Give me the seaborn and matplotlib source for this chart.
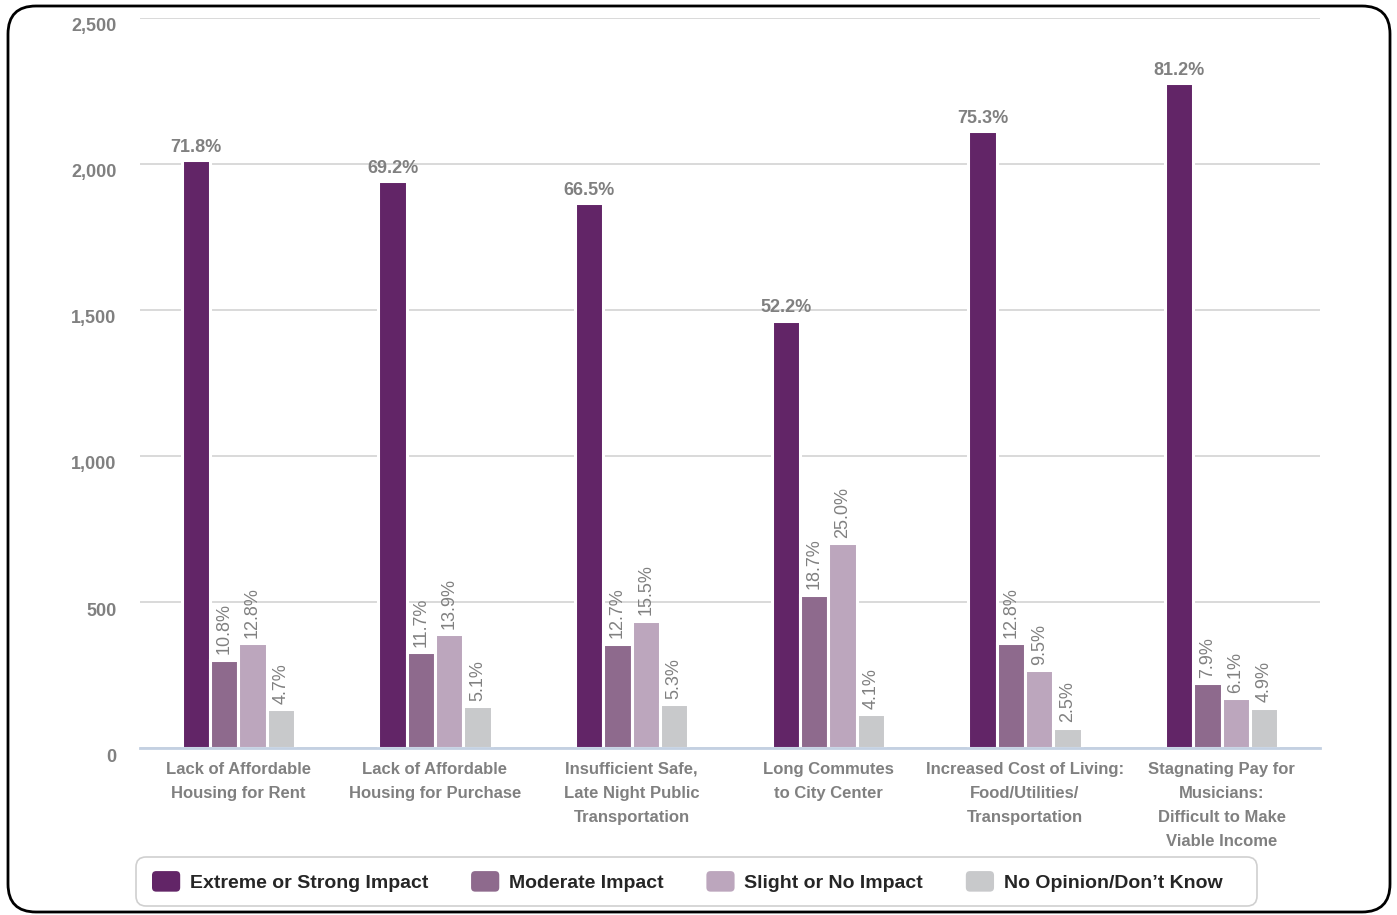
import matplotlib
matplotlib.use("Agg")
import matplotlib.pyplot as plt
import matplotlib.transforms as mtransforms
import seaborn as sns
import pandas as pd
from matplotlib.patches import FancyBboxPatch, Patch
from matplotlib.legend_handler import HandlerPatch
from matplotlib import font_manager

categories = [
    "Lack of Affordable\nHousing for Rent",
    "Lack of Affordable\nHousing for Purchase",
    "Insufficient Safe,\nLate Night Public\nTransportation",
    "Long Commutes\nto City Center",
    "Increased Cost of Living:\nFood/Utilities/\nTransportation",
    "Stagnating Pay for\nMusicians:\nDifficult to Make\nViable Income",
]
series = ["Extreme or Strong Impact", "Moderate Impact", "Slight or No Impact", "No Opinion/Don\u2019t Know"]
extreme = [2014, 1941, 1865, 1464, 2112, 2278]
moderate = [303, 328, 356, 525, 359, 222]
slight = [359, 390, 435, 701, 266, 171]
no_opinion = [132, 143, 149, 115, 70, 137]
pct_extreme = ["71.8%", "69.2%", "66.5%", "52.2%", "75.3%", "81.2%"]
pct_moderate = ["10.8%", "11.7%", "12.7%", "18.7%", "12.8%", "7.9%"]
pct_slight = ["12.8%", "13.9%", "15.5%", "25.0%", "9.5%", "6.1%"]
pct_noop = ["4.7%", "5.1%", "5.3%", "4.1%", "2.5%", "4.9%"]
yticks = [0, 500, 1000, 1500, 2000, 2500]
ytick_labels = ["0", "500", "1,000", "1,500", "2,000", "2,500"]

colors = ["#622567", "#8e6a8d", "#bca6bd", "#c8c9cb"]

values = [extreme, moderate, slight, no_opinion]
rows = []
for s, vals in zip(series, values):
    for c, v in zip(categories, vals):
        rows.append({"category": c, "series": s, "value": v})
df = pd.DataFrame(rows)

sns.set_theme(style="white")
avail = {f.name for f in font_manager.fontManager.ttflist}
fam = "Liberation Sans Narrow" if "Liberation Sans Narrow" in avail else "Liberation Sans"
plt.rcParams["font.family"] = [fam, "DejaVu Sans"]

W, H = 1397, 915
fig = plt.figure(figsize=(W / 100, H / 100), dpi=100)

# background frame and legend box
bg = fig.add_axes([0, 0, 1, 1], zorder=-10)
bg.set_xlim(0, W)
bg.set_ylim(0, H)
bg.axis("off")
bg.add_patch(FancyBboxPatch((8, 3), 1382, 906, boxstyle="round,pad=0,rounding_size=28",
                            fill=False, edgecolor="black", linewidth=2))
bg.add_patch(FancyBboxPatch((136, 9), 1121, 49, boxstyle="round,pad=0,rounding_size=10",
                            fill=False, edgecolor="#d0d0d0", linewidth=1.2))

ax = fig.add_axes([140 / W, 1 - 748 / H, (1320 - 140) / W, (748 - 18) / H])
sns.barplot(data=df, x="category", y="value", hue="series", palette=colors,
            width=0.575, edgecolor="white", linewidth=2.2, ax=ax, legend=False,
            saturation=1, errorbar=None)

grey = "#808080"
ax.set_ylim(0, 2500)
ax.set_xlim(-0.5, 5.5)
ax.set_yticks(yticks)
ax.set_yticklabels(ytick_labels)
ax.yaxis.grid(True, color="#d3d3d3", linewidth=1.2)
ax.set_axisbelow(True)
for sp in ["top", "right", "left"]:
    ax.spines[sp].set_visible(False)
ax.spines["bottom"].set_color("#c3d0e2")
ax.spines["bottom"].set_linewidth(2)
ax.tick_params(axis="y", length=0, pad=17, labelsize=13, labelcolor=grey)
offset = mtransforms.ScaledTranslation(0, -7 / 100, fig.dpi_scale_trans)
for t in ax.get_yticklabels():
    t.set_fontweight("bold")
    t.set_transform(t.get_transform() + offset)
ax.set_xticks([-0.5 + i for i in range(7)], minor=True)
ax.tick_params(axis="x", which="minor", length=8, width=2, color="#c3d0e2", direction="out")
ax.tick_params(axis="x", which="major", length=0, pad=10, labelsize=12, labelcolor=grey)
for t in ax.get_xticklabels():
    t.set_fontweight("bold")
    t.set_linespacing(1.75)
ax.set_xlabel("")
ax.set_ylabel("")

labels_all = [pct_extreme, pct_moderate, pct_slight, pct_noop]
for i, (cont, labs) in enumerate(zip(ax.containers, labels_all)):
    if i == 0:
        ax.bar_label(cont, labels=labs, padding=3, fontsize=13, color=grey, fontweight="bold")
    else:
        ax.bar_label(cont, labels=labs, padding=4, fontsize=13, color=grey, rotation=90)


class RoundHandler(HandlerPatch):
    def create_artists(self, legend, orig_handle, xdescent, ydescent, width, height, fontsize, trans):
        p = FancyBboxPatch((-xdescent, -ydescent), width, height,
                           boxstyle="round,pad=0,rounding_size=3",
                           facecolor=orig_handle.get_facecolor(), edgecolor="none",
                           transform=trans)
        return [p]


handles = [Patch(facecolor=c, edgecolor=c) for c in colors]
leg = fig.legend(handles, series, loc="center left", ncol=4,
                 bbox_to_anchor=(152 / W, (915 - 881.5) / H),
                 frameon=False, handlelength=1.45, handleheight=1.25,
                 prop={"family": [fam, "DejaVu Sans"], "weight": "bold", "size": 14},
                 borderaxespad=0, borderpad=0, columnspacing=2.2, handletextpad=0.5,
                 handler_map={Patch: RoundHandler()})

fig.savefig("out.png", dpi=100)
